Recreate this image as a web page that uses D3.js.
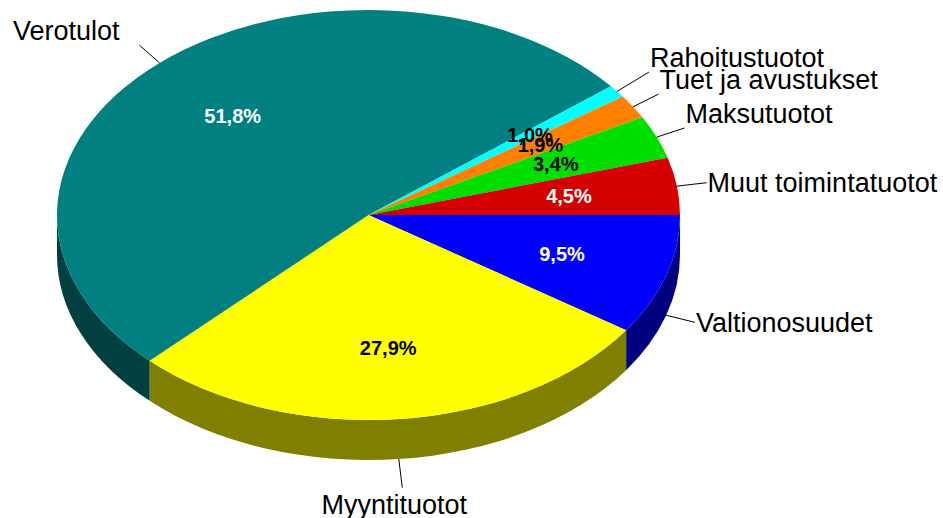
<!DOCTYPE html>
<html>
<head>
<meta charset="utf-8">
<script src="https://cdn.jsdelivr.net/npm/d3@7"></script>
<style>
    body { margin: 0; background: #fff; }
    #chart { width: 943px; height: 518px; }
    text { font-family: Arial, "Liberation Sans", sans-serif; }
</style>
</head>
<body>
<div id="chart"></div>
<script>
// slices in drawing order, clockwise from 3 o'clock
const categories = ["Valtionosuudet", "Myyntituotot", "Verotulot", "Rahoitustuotot",
    "Tuet ja avustukset", "Maksutuotot", "Muut toimintatuotot"];
const shares = [9.5, 27.9, 51.8, 1.0, 1.9, 3.4, 4.5];
const shareLabels = ["9,5%", "27,9%", "51,8%", "1,0%", "1,9%", "3,4%", "4,5%"];
const topColors = ["#0000ff", "#ffff00", "#008080", "#00ffff", "#ff8000", "#00e000", "#d40000"];
const sideColors = ["#000080", "#808000", "#004040", "#008080", "#804000", "#007000", "#6a0000"];

const width = 943, height = 518;
const cx = 368.5, cy = 215, rx = 311.5, ry = 205, depth = 40;

const svg = d3.select("#chart").append("svg")
    .attr("width", width)
    .attr("height", height);

const data = categories.map((c, i) => ({name: c, value: shares[i], label: shareLabels[i],
    fill: topColors[i], side: sideColors[i]}));

// d3 angle 0 = 12 o'clock, so start at pi/2 to begin at 3 o'clock
const pie = d3.pie().sort(null).value(d => d.value)
    .startAngle(Math.PI / 2).endAngle(Math.PI / 2 + 2 * Math.PI);
const arcs = pie(data);

const px = (a, k = 1) => cx + rx * k * Math.sin(a);
const py = (a, k = 1) => cy - ry * k * Math.cos(a);

// side walls, only the front half (3 o'clock to 9 o'clock) is visible
const frontStart = Math.PI / 2, frontEnd = 3 * Math.PI / 2;
arcs.forEach(d => {
    const s = Math.max(d.startAngle, frontStart);
    const e = Math.min(d.endAngle, frontEnd);
    if (e <= s) return;
    const path = `M${px(s)},${py(s)} A${rx},${ry} 0 0 1 ${px(e)},${py(e)}` +
        ` L${px(e)},${py(e) + depth} A${rx},${ry} 0 0 0 ${px(s)},${py(s) + depth} Z`;
    svg.append("path")
        .attr("d", path)
        .attr("fill", d.data.side);
});

// top faces
arcs.forEach(d => {
    const large = (d.endAngle - d.startAngle) > Math.PI ? 1 : 0;
    const path = `M${cx},${cy} L${px(d.startAngle)},${py(d.startAngle)}` +
        ` A${rx},${ry} 0 ${large} 1 ${px(d.endAngle)},${py(d.endAngle)} Z`;
    svg.append("path")
        .attr("d", path)
        .attr("fill", d.data.fill);
});

// percentage labels inside the slices
const lum = c => { const r = d3.rgb(c); return 0.299 * r.r + 0.587 * r.g + 0.114 * r.b; };
arcs.forEach(d => {
    const a = (d.startAngle + d.endAngle) / 2;
    svg.append("text")
        .attr("x", px(a, 0.65))
        .attr("y", py(a, 0.65))
        .attr("dy", "0.35em")
        .attr("text-anchor", "middle")
        .attr("font-size", "20px")
        .attr("font-weight", "bold")
        .attr("fill", lum(d.data.fill) < 100 ? "#fff" : "#000")
        .text(d.data.label);
});

// category labels with leader lines
const leaders = arcs.map(d => {
    const a = (d.startAngle + d.endAngle) / 2;
    const dx = Math.sin(a), dy = -Math.cos(a);
    const front = a > frontStart && a < frontEnd;
    const x0 = px(a), y0 = py(a) + (front ? depth : 0);
    return {d, dx, dy, x0, y0, len: 30};
});

// upper right labels: push up when they crowd each other (bottom to top)
let prevY = Infinity;
leaders.filter(l => l.dx > 0.3 && l.dy < -0.3).reverse().forEach(l => {
    let y1 = l.y0 + l.dy * l.len * 0.8;
    if (y1 > prevY - 22) {
        y1 = prevY - 22;
        l.len = (y1 - l.y0) / (l.dy * 0.8);
    }
    prevY = y1;
});

leaders.forEach(l => {
    // labels below the pie sit a bit further out
    if (l.dy > 0.9) l.len = 36;
    const x1 = l.x0 + l.dx * l.len, y1 = l.y0 + l.dy * l.len * 0.8;

    svg.append("line")
        .attr("x1", l.x0).attr("y1", l.y0)
        .attr("x2", x1).attr("y2", y1)
        .attr("stroke", "#000")
        .attr("stroke-width", 1);

    let anchor = "middle", tx = x1, ty = y1, base = "0.35em";
    if (l.dx > 0.3) { anchor = "start"; tx = x1 + 1; }
    else if (l.dx < -0.3) { anchor = "end"; tx = x1 - 20; }
    if (l.dy < -0.3) { base = "0em"; ty = y1 - 5; }
    else if (l.dy > 0.3) { base = "0.9em"; ty = y1 + 2; tx = x1 - 8; }

    svg.append("text")
        .attr("x", tx)
        .attr("y", ty)
        .attr("dy", base)
        .attr("text-anchor", anchor)
        .attr("font-size", "27px")
        .attr("fill", "#000")
        .text(l.d.data.name);
});
</script>
</body>
</html>
